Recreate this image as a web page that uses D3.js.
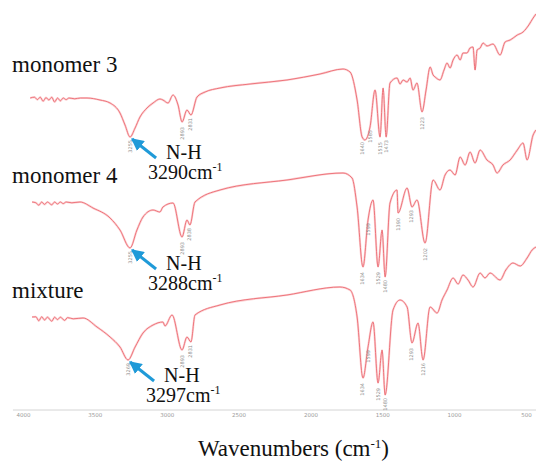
<!DOCTYPE html>
<html>
<head>
<meta charset="utf-8">
<script src="https://cdn.jsdelivr.net/npm/d3@7"></script>
<style>
  html, body { margin: 0; padding: 0; background: #fff; }
  svg { display: block; }
</style>
</head>
<body>
<svg id="chart" width="536" height="463"></svg>
<script>
// wavenumbers (cm-1) and offset transmittance (a.u.)
const wnMonomer3 = [3950, 3920, 3900, 3880, 3860, 3840, 3820, 3800, 3780, 3760, 3740, 3720, 3700, 3680, 3640, 3600, 3555,
  3464, 3394, 3325, 3290, 3255, 3220, 3186, 3137, 3095, 3047, 3026, 2991, 2956, 2921, 2893, 2859, 2831, 2789, 2733, 2629,
  2420, 2163, 1933, 1773, 1724, 1675, 1640, 1620, 1585, 1550, 1515, 1494, 1473, 1446, 1397, 1376, 1355, 1327, 1306, 1286, 1258, 1223,
  1195, 1167, 1146, 1132, 1098, 1070, 1049, 1028, 1007, 979, 958, 938, 910, 889, 868, 854, 840, 819, 798, 771, 729, 680, 645, 610, 560, 520, 480, 450, 430];
const tMonomer3 = [78, 78.2, 77.6, 78.2, 77.2, 78.1, 77.5, 78.2, 77, 78, 77.3, 78, 77.6, 78, 77.8, 78, 78,
  77.5, 76.75, 74.25, 71.25, 68.25, 70.5, 73.25, 75.5, 76.75, 77.75, 77.5, 76.75, 78.75, 76.25, 72, 75, 73.75, 78.25, 79.5, 80.5,
  81.5, 82.5, 84, 85.25, 84.5, 77.5, 68.25, 67.5, 70.75, 80, 68.25, 80.5, 68.25, 81.75, 83, 81.5, 82.5, 82, 83, 80, 81.75, 74.5,
  80, 85.75, 83.75, 83.25, 82.5, 85, 86.75, 85.5, 87.5, 88.75, 87.5, 89.25, 89.25, 90.5, 90.75, 85, 90, 90.5, 91.75, 91, 91.5, 88.75, 92, 92.5, 93.75, 94.5, 96.25, 98, 99];

const wnMonomer4 = [3937, 3910, 3890, 3870, 3850, 3830, 3800, 3780, 3760, 3740, 3720, 3700, 3660, 3603,
  3513, 3394, 3325, 3255, 3207, 3165, 3095, 3047, 3026, 2956, 2893, 2859, 2838, 2803, 2629, 2163, 1773, 1710, 1675,
  1634, 1599, 1564, 1529, 1501, 1480, 1446, 1397, 1390, 1327, 1293, 1258, 1202, 1146, 1098, 1063, 1028, 993, 958, 923, 889, 854,
  819, 771, 729, 701, 660, 610, 560, 520, 492, 450, 430];
const tMonomer4 = [52, 51.8, 51.2, 52, 51.4, 52, 51.3, 52, 51.5, 52, 51.6, 52, 51.8, 52,
  50.5, 48, 45, 40.5, 45, 48.25, 50, 49.5, 50.75, 51.75, 43.25, 47.5, 46.25, 52, 55, 57.5, 59.25, 58, 50.75,
  35.75, 47.5, 52.5, 35.75, 45, 33.25, 51.75, 55, 49.25, 55.5, 50.75, 52.5, 41.75, 57.5, 55, 58.75, 60, 58.75, 63.25, 61.25, 64.5, 61.75,
  65, 62.5, 61.25, 59.25, 61.25, 62.5, 65, 66.75, 62.5, 68.75, 70];

const wnMixture = [3937, 3910, 3890, 3870, 3850, 3830, 3800, 3780, 3760, 3740, 3710, 3690, 3650, 3582,
  3485, 3394, 3325, 3269, 3220, 3165, 3095, 3026, 3012, 2963, 2893, 2859, 2831, 2803, 2629, 2163, 1794, 1724, 1675,
  1634, 1599, 1564, 1529, 1501, 1480, 1425, 1376, 1327, 1293, 1251, 1216, 1167, 1118, 1084, 1049, 1007, 972, 938, 903, 868, 819,
  785, 750, 680, 640, 590, 540, 492, 457, 430];
const tMixture = [23.25, 23.3, 22.3, 23.3, 22.5, 23.2, 22.2, 23.2, 22.6, 23.2, 22.4, 23.1, 22.8, 23,
  20.75, 18.25, 15.75, 12.5, 15.75, 19.25, 21.25, 22, 21, 23.75, 15, 18.25, 17, 23.75, 26.25, 28.75, 30.75, 30, 23.25,
  8, 15.75, 22, 6.75, 15, 3.75, 25, 27.5, 25.75, 16.75, 21.75, 12.5, 25.75, 24.25, 27.5, 30, 33, 31.5, 33.75, 32.5, 30.75, 34.25,
  33, 34.25, 32.5, 35, 36.75, 36, 38, 40, 40.75];

const seriesNames = ["monomer 3", "monomer 4", "mixture"];
const nhLabels = ["3290", "3288", "3297"];
const peakLabels = [
  [3255, 2893, 2831, 1640, 1585, 1515, 1473, 1223],
  [3255, 2893, 2838, 1634, 1599, 1529, 1480, 1390, 1293, 1202],
  [3269, 2893, 2831, 1634, 1599, 1529, 1480, 1293, 1216]
];
const tickValues = [4000, 3500, 3000, 2500, 2000, 1500, 1000, 500];

const series = [
  { wn: wnMonomer3, t: tMonomer3 },
  { wn: wnMonomer4, t: tMonomer4 },
  { wn: wnMixture, t: tMixture }
].map((s, i) => ({
  name: seriesNames[i],
  nh: nhLabels[i],
  peaks: peakLabels[i],
  points: s.wn.map((w, j) => ({ wn: w, t: s.t[j] }))
}));

const width = 536, height = 463;
const axisY = 410;
const serif = "'Liberation Serif', 'Times New Roman', Times, serif";

const svg = d3.select("#chart");
svg.append("rect").attr("width", width).attr("height", height).attr("fill", "#fff");

const x = d3.scaleLinear().domain([4000, 430]).range([23, 536]);
const y = d3.scaleLinear().domain([0, 100]).range([axisY, 10]);

// axis
svg.append("line")
  .attr("x1", x(4070)).attr("x2", x(430))
  .attr("y1", axisY).attr("y2", axisY)
  .attr("stroke", "#d4d4d4").attr("stroke-width", 1);

const axis = svg.append("g")
  .attr("transform", `translate(0,${axisY})`)
  .call(d3.axisBottom(x).tickValues(tickValues).tickSize(0).tickPadding(3).tickFormat(d3.format("d")));
axis.select(".domain").remove();
axis.selectAll("text")
  .attr("font-size", 5.5)
  .attr("font-family", "DejaVu Sans, sans-serif")
  .attr("fill", "#9a9a9a");

svg.append("text")
  .attr("x", 198).attr("y", 456)
  .attr("font-family", serif).attr("font-size", 23).attr("fill", "#111")
  .call(t => {
    t.append("tspan").text("Wavenumbers (cm");
    t.append("tspan").attr("font-size", 13).attr("dy", -8).text("-1");
    t.append("tspan").attr("dy", 8).text(")");
  });

// traces
const line = d3.line()
  .x(d => x(d.wn))
  .y(d => y(d.t))
  .curve(d3.curveMonotoneX);

const traces = svg.append("g").attr("fill", "none");
traces.selectAll("path.halo")
  .data(series)
  .join("path")
  .attr("class", "halo")
  .attr("d", d => line(d.points))
  .attr("stroke", "#fbd3d5")
  .attr("stroke-width", 2.2)
  .attr("stroke-linejoin", "round");
traces.selectAll("path.trace")
  .data(series)
  .join("path")
  .attr("class", "trace")
  .attr("d", d => line(d.points))
  .attr("stroke", "#ec6a72")
  .attr("stroke-width", 0.9)
  .attr("stroke-linejoin", "round");

// small peak labels under the bands
const peakG = svg.append("g")
  .attr("font-family", "DejaVu Sans, sans-serif")
  .attr("font-size", 5)
  .attr("fill", "#8c8c8c");
series.forEach(s => {
  s.peaks.forEach((p, k) => {
    const pt = s.points.find(d => d.wn === p);
    const px = x(p), py = y(pt.t) + 3 + (k % 2) * 2;
    peakG.append("text")
      .attr("transform", `translate(${px + 1.5},${py}) rotate(-90)`)
      .attr("text-anchor", "end")
      .text(p);
  });
});

// series names
const nameY = [72, 183, 298];
svg.append("g")
  .selectAll("text")
  .data(series)
  .join("text")
  .attr("x", 12)
  .attr("y", (d, i) => nameY[i])
  .attr("font-family", serif)
  .attr("font-size", 23)
  .attr("fill", "#111")
  .text(d => d.name);

// N-H arrows and labels
svg.append("defs").append("marker")
  .attr("id", "head")
  .attr("viewBox", "0 0 10 10")
  .attr("refX", 9).attr("refY", 5)
  .attr("markerWidth", 4.2).attr("markerHeight", 4.2)
  .attr("markerUnits", "strokeWidth")
  .attr("orient", "auto")
  .append("path")
  .attr("d", "M0,0L10,5L0,10z")
  .attr("fill", "#1f9ad8");

const ann = svg.append("g");
series.forEach(s => {
  const band = s.points.filter(d => d.wn > 3150 && d.wn < 3400);
  const low = d3.least(band, d => d.t);
  const tx = x(low.wn) + 1, ty = y(low.t) + 1;
  ann.append("line")
    .attr("x1", tx + 25).attr("y1", ty + 20)
    .attr("x2", tx + 1).attr("y2", ty + 1)
    .attr("stroke", "#1f9ad8").attr("stroke-width", 3)
    .attr("marker-end", "url(#head)");
  ann.append("text")
    .attr("x", tx + 35).attr("y", ty + 21)
    .attr("font-family", serif).attr("font-size", 20).attr("fill", "#111")
    .text("N-H");
  ann.append("text")
    .attr("x", tx + 17).attr("y", ty + 41)
    .attr("font-family", serif).attr("font-size", 20).attr("fill", "#111")
    .call(t => {
      t.append("tspan").text(s.nh + "cm");
      t.append("tspan").attr("font-size", 12).attr("dy", -8).text("-1");
    });
});
</script>
</body>
</html>
